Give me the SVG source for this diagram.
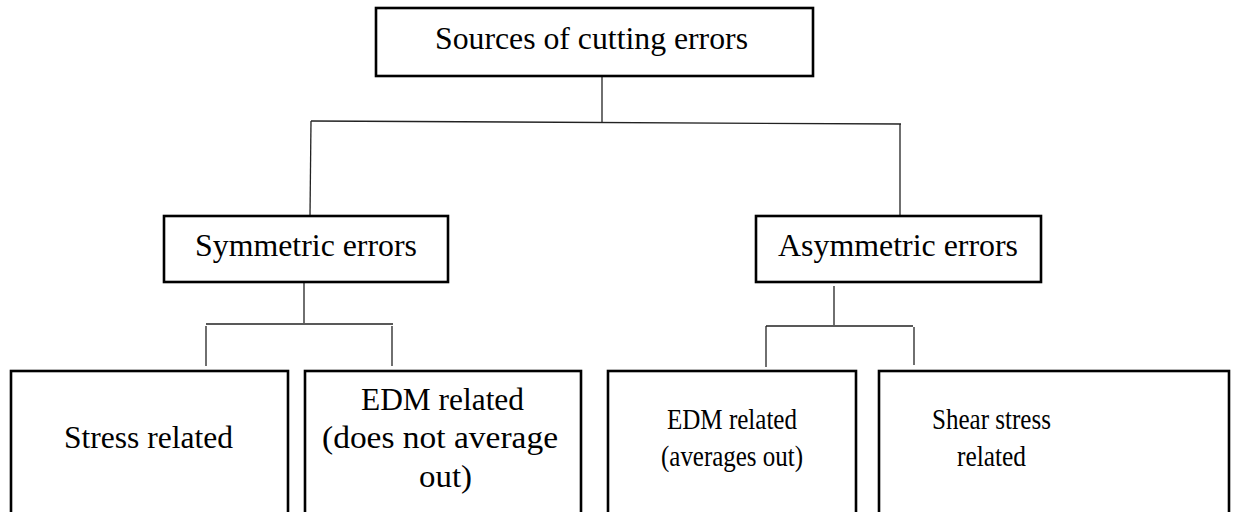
<svg xmlns="http://www.w3.org/2000/svg" width="1244" height="512" viewBox="0 0 1244 512">
<style>
.box{fill:#fff;stroke:#000;stroke-width:2.6}
.c{fill:none;stroke:#222;stroke-width:1.3}
text{font-family:"Liberation Serif","Times New Roman",serif;font-size:32px;fill:#000}
.n{font-size:30px}
</style>
<rect width="1244" height="512" fill="#fff"/>
<g id="connectors">
<path class="c" d="M602,77 V122"/>
<path class="c" d="M311,121 L901,124"/>
<path class="c" d="M311,121 L310,215"/>
<path class="c" d="M900,124 V215"/>
<path class="c" d="M304,283 V323"/>
<path class="c" d="M206,324 H393"/>
<path class="c" d="M206,326 V366"/>
<path class="c" d="M392,326 V366"/>
<path class="c" d="M834,286 V325"/>
<path class="c" d="M766,326 H913"/>
<path class="c" d="M766,326 V367"/>
<path class="c" d="M914,327 V365"/>
</g>
<g id="root">
<rect class="box" x="376" y="8" width="437" height="68"/>
<text x="435" y="49" textLength="313" lengthAdjust="spacingAndGlyphs">Sources of cutting errors</text>
</g>
<g id="symmetric">
<rect class="box" x="164" y="216" width="284" height="66"/>
<text x="195" y="256" textLength="222" lengthAdjust="spacingAndGlyphs">Symmetric errors</text>
</g>
<g id="asymmetric">
<rect class="box" x="756" y="216" width="285" height="66"/>
<text x="778" y="256" textLength="240" lengthAdjust="spacingAndGlyphs">Asymmetric errors</text>
</g>
<g id="stress">
<rect class="box" x="11" y="371" width="277" height="160"/>
<text x="64" y="448" textLength="169" lengthAdjust="spacingAndGlyphs">Stress related</text>
</g>
<g id="edm-sym">
<rect class="box" x="305" y="371" width="276" height="160"/>
<text x="361" y="410" textLength="163" lengthAdjust="spacingAndGlyphs">EDM related</text>
<text x="322" y="448" textLength="236" lengthAdjust="spacingAndGlyphs">(does not average</text>
<text x="419" y="487" textLength="53" lengthAdjust="spacingAndGlyphs">out)</text>
</g>
<g id="edm-asym">
<rect class="box" x="608" y="371" width="248" height="160"/>
<text class="n" x="667" y="429" textLength="130" lengthAdjust="spacingAndGlyphs">EDM related</text>
<text class="n" x="661" y="466" textLength="142" lengthAdjust="spacingAndGlyphs">(averages out)</text>
</g>
<g id="shear">
<rect class="box" x="879" y="371" width="350" height="160"/>
<text class="n" x="932" y="429" textLength="119" lengthAdjust="spacingAndGlyphs">Shear stress</text>
<text class="n" x="957" y="466" textLength="69" lengthAdjust="spacingAndGlyphs">related</text>
</g>
</svg>
